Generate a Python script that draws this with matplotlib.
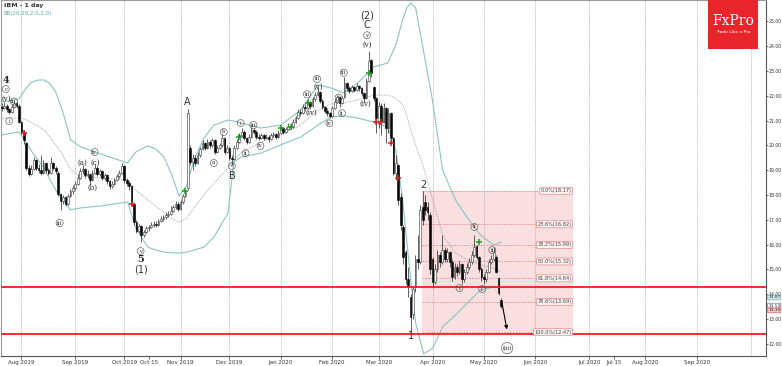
import numpy as np
import pandas as pd
import matplotlib
matplotlib.use('Agg')
import matplotlib.pyplot as plt
import matplotlib.transforms as mtransforms
from matplotlib.patches import Rectangle

# trading calendar (US holidays removed up to the last bar, plain weekdays after it)
holidays = ['2019-09-02', '2019-11-28', '2019-12-25', '2020-01-01',
            '2020-01-20', '2020-02-17', '2020-04-10']
past = pd.bdate_range('2019-07-22', '2020-05-12')
past = past[~past.isin(pd.to_datetime(holidays))]
future = pd.bdate_range('2020-05-13', '2020-10-30')
days = past.append(future)

# daily candles, 22 Jul 2019 .. 12 May 2020
opens = [21.55, 21.50, 21.60, 21.45, 21.35, 21.55, 21.70, 21.60, 20.95, 20.55,
         20.10, 19.10, 18.85, 19.05, 19.40, 19.10, 19.00, 18.90, 19.30, 19.00,
         18.90, 19.30, 19.10, 18.90, 18.05, 17.75, 17.90, 17.65, 17.95, 18.15,
         18.30, 18.45, 18.70, 18.95, 19.05, 18.80, 18.85, 18.60, 18.90, 19.10,
         18.85, 18.95, 18.70, 18.80, 18.55, 18.35, 18.45, 18.60, 18.75, 18.90,
         19.15, 18.60, 18.50, 18.35, 17.65, 16.90, 16.55, 16.75, 16.40, 16.50,
         16.65, 16.70, 16.80, 16.85, 16.80, 16.95, 17.05, 17.10, 17.20, 17.25,
         17.35, 17.50, 17.65, 17.45, 17.70, 17.95, 18.30, 19.90, 19.35, 19.50,
         19.30, 19.60, 19.85, 20.10, 19.90, 20.15, 20.00, 20.20, 19.75, 19.90,
         20.00, 20.30, 19.75, 19.90, 19.50, 19.45, 19.90, 20.15, 20.40, 20.55,
         20.30, 20.15, 20.35, 20.60, 20.55, 20.35, 20.30, 20.40, 20.30, 20.35,
         20.25, 20.40, 20.45, 20.35, 20.50, 20.70, 20.55, 20.65, 20.80, 20.75,
         20.95, 21.10, 21.35, 21.30, 21.55, 21.50, 21.75, 21.60, 21.85, 22.05,
         22.15, 21.80, 21.55, 21.40, 21.30, 21.20, 21.50, 21.75, 21.95, 21.70,
         21.95, 22.50, 22.30, 22.20, 22.35, 22.25, 22.40, 22.30, 22.10, 21.90,
         22.60, 23.45, 22.35, 21.90, 20.90, 21.60, 21.00, 21.50, 20.70, 21.30,
         20.30, 18.90, 19.20, 17.90, 16.70, 15.70, 14.60, 13.90, 13.20, 14.30,
         15.40, 15.30, 17.50, 17.70, 17.50, 17.20, 15.40, 14.50, 15.00, 15.60,
         15.30, 15.80, 15.40, 15.70, 15.30, 14.70, 15.10, 14.90, 15.20, 14.60,
         14.90, 15.10, 15.30, 15.60, 15.95, 15.50, 15.00, 14.70, 14.60, 14.90,
         15.30, 15.40, 15.50, 14.65, 13.75]
highs = [21.70, 21.75, 21.65, 21.50, 21.65, 21.80, 21.75, 21.65, 21.00, 20.60,
         20.15, 19.20, 19.20, 19.55, 19.45, 19.25, 19.60, 19.40, 19.35, 19.10,
         19.55, 19.35, 19.15, 18.95, 18.10, 18.00, 17.95, 18.05, 18.25, 18.40,
         18.55, 18.85, 19.10, 19.20, 19.10, 19.00, 18.90, 19.00, 19.25, 19.15,
         19.05, 19.00, 18.90, 18.85, 18.60, 18.55, 18.70, 18.85, 19.00, 19.30,
         19.20, 18.70, 18.55, 18.40, 17.70, 17.00, 16.85, 16.80, 16.60, 16.75,
         16.80, 16.90, 16.95, 16.95, 17.05, 17.15, 17.20, 17.30, 17.35, 17.55,
         17.60, 17.75, 17.70, 17.80, 18.05, 18.25, 21.45, 20.00, 19.65, 19.60,
         19.75, 19.95, 20.20, 20.15, 20.25, 20.20, 20.30, 20.25, 20.00, 20.10,
         20.45, 20.35, 20.00, 19.95, 19.60, 20.00, 20.25, 20.50, 20.70, 20.60,
         20.35, 20.45, 20.75, 20.70, 20.60, 20.45, 20.50, 20.45, 20.45, 20.40,
         20.50, 20.55, 20.50, 20.60, 20.80, 20.75, 20.75, 20.90, 20.90, 21.05,
         21.20, 21.45, 21.45, 21.65, 21.65, 21.85, 21.80, 21.95, 22.15, 22.35,
         22.20, 21.85, 21.60, 21.50, 21.35, 21.60, 21.85, 22.05, 22.00, 22.00,
         22.75, 22.55, 22.40, 22.45, 22.40, 22.50, 22.45, 22.35, 22.15, 22.70,
         23.80, 23.50, 22.40, 21.95, 21.75, 21.70, 21.70, 21.55, 21.50, 21.35,
         20.35, 19.60, 19.25, 18.10, 16.80, 15.80, 15.10, 14.00, 14.30, 15.60,
         16.40, 17.60, 18.17, 18.00, 17.70, 17.30, 15.50, 15.20, 15.80, 15.70,
         16.40, 15.90, 15.85, 15.75, 15.40, 15.25, 15.20, 15.35, 15.25, 15.00,
         15.25, 15.45, 15.75, 16.40, 16.00, 15.55, 15.10, 14.80, 15.00, 15.40,
         15.60, 15.90, 15.60, 14.70, 13.85]
lows = [21.40, 21.45, 21.35, 21.25, 21.30, 21.50, 21.50, 20.90, 20.45, 20.05,
        19.00, 18.75, 18.80, 19.00, 19.00, 18.90, 18.80, 18.85, 18.90, 18.80,
        18.85, 19.00, 18.85, 17.95, 17.40, 17.65, 17.55, 17.60, 17.90, 18.05,
        18.20, 18.40, 18.65, 18.85, 18.70, 18.70, 18.45, 18.55, 18.85, 18.75,
        18.75, 18.60, 18.60, 18.45, 18.25, 18.30, 18.40, 18.55, 18.70, 18.85,
        18.50, 18.35, 18.20, 17.55, 16.80, 16.45, 16.45, 16.10, 16.30, 16.45,
        16.55, 16.65, 16.70, 16.70, 16.75, 16.90, 16.95, 17.05, 17.10, 17.20,
        17.30, 17.45, 17.35, 17.40, 17.65, 17.90, 18.20, 19.20, 19.00, 19.15,
        19.25, 19.55, 19.80, 19.80, 19.85, 19.90, 19.95, 19.65, 19.70, 19.85,
        19.95, 19.65, 19.70, 19.40, 19.20, 19.40, 19.85, 20.10, 20.35, 20.20,
        20.05, 20.10, 20.30, 20.45, 20.25, 20.20, 20.25, 20.20, 20.25, 20.15,
        20.20, 20.35, 20.25, 20.30, 20.45, 20.45, 20.50, 20.60, 20.65, 20.70,
        20.90, 21.05, 21.20, 21.25, 21.40, 21.45, 21.45, 21.55, 21.80, 22.00,
        21.70, 21.45, 21.30, 21.20, 21.10, 21.15, 21.45, 21.70, 21.55, 21.65,
        21.90, 22.20, 22.10, 22.15, 22.15, 22.20, 22.20, 22.00, 21.75, 21.85,
        22.55, 22.75, 21.80, 20.50, 20.70, 20.40, 20.90, 20.10, 20.50, 20.05,
        18.80, 18.60, 17.60, 16.60, 15.20, 14.40, 13.90, 12.47, 13.00, 14.10,
        15.00, 15.20, 16.80, 17.20, 17.00, 14.80, 14.25, 14.40, 14.90, 15.10,
        15.20, 15.30, 15.30, 15.10, 14.55, 14.60, 14.75, 14.80, 14.40, 14.50,
        14.80, 15.00, 15.20, 15.50, 15.40, 14.90, 14.55, 14.40, 14.50, 14.85,
        15.20, 15.35, 14.85, 13.95, 13.45]
closes = [21.50, 21.60, 21.45, 21.35, 21.55, 21.70, 21.60, 20.95, 20.55, 20.20,
          19.10, 18.85, 19.05, 19.40, 19.10, 19.00, 18.90, 19.30, 19.00, 18.90,
          19.30, 19.10, 18.95, 18.05, 17.75, 17.90, 17.65, 17.95, 18.15, 18.30,
          18.45, 18.70, 18.95, 19.05, 18.80, 18.85, 18.60, 18.90, 19.10, 18.85,
          18.95, 18.70, 18.80, 18.55, 18.35, 18.45, 18.60, 18.75, 18.90, 19.15,
          18.60, 18.50, 18.35, 17.65, 16.90, 16.55, 16.75, 16.40, 16.50, 16.65,
          16.70, 16.80, 16.85, 16.80, 16.95, 17.05, 17.10, 17.20, 17.25, 17.35,
          17.50, 17.65, 17.45, 17.70, 17.95, 18.15, 21.30, 19.35, 19.50, 19.30,
          19.60, 19.85, 20.10, 19.90, 20.15, 20.00, 20.20, 19.75, 19.90, 20.00,
          20.30, 19.75, 19.90, 19.50, 19.45, 19.90, 20.15, 20.40, 20.55, 20.30,
          20.15, 20.35, 20.60, 20.55, 20.35, 20.30, 20.40, 20.30, 20.35, 20.25,
          20.40, 20.45, 20.35, 20.50, 20.70, 20.55, 20.65, 20.80, 20.75, 20.95,
          21.10, 21.35, 21.30, 21.55, 21.50, 21.75, 21.60, 21.85, 22.05, 22.15,
          21.80, 21.55, 21.40, 21.30, 21.20, 21.50, 21.75, 21.95, 21.70, 21.90,
          22.50, 22.30, 22.20, 22.35, 22.25, 22.40, 22.30, 22.10, 21.90, 22.60,
          23.40, 22.90, 21.90, 21.10, 21.60, 21.00, 21.50, 20.70, 21.30, 20.30,
          18.90, 19.30, 17.80, 16.80, 15.50, 14.60, 14.30, 13.10, 14.20, 15.40,
          15.30, 17.40, 17.00, 17.40, 17.30, 15.00, 14.50, 15.00, 15.60, 15.30,
          15.80, 15.40, 15.70, 15.30, 14.70, 15.10, 14.90, 15.20, 14.60, 14.90,
          15.10, 15.30, 15.60, 15.90, 15.50, 15.00, 14.70, 14.60, 14.90, 15.30,
          15.40, 15.70, 14.90, 14.05, 13.54]

# Bollinger bands (bar index, price)
band_x = [0, 6.9, 9.5, 11.8, 14.5, 17.1, 19.5, 22.0, 24.9, 28.1, 32.2, 40.4, 51.4,
          54.7, 59.6, 63.0, 66.2, 69.5, 72.4, 75.6, 78.5, 82.6, 86.7, 92.4, 94.8,
          97.7, 105.9, 114.0, 122.2, 129.2, 134.5, 139.8, 145.5, 152.0, 157.7,
          161.0, 163.8, 165.5, 167.1, 169.1, 172.4, 176.1, 180.1, 185.4, 190.3,
          195.6, 200.9, 204.0]
band_up = [21.75, 21.87, 22.25, 22.52, 22.63, 22.64, 22.50, 22.15, 21.35, 20.22,
           19.94, 19.65, 19.29, 19.73, 19.98, 19.85, 19.53, 18.80, 17.96, 18.40,
           19.41, 20.30, 20.82, 21.02, 20.98, 20.90, 20.70, 20.82, 21.43, 22.44,
           22.31, 22.11, 22.52, 23.16, 23.32, 24.05, 25.06, 25.55, 25.74, 25.54,
           23.75, 21.75, 19.01, 17.80, 17.07, 16.39, 15.98, 16.10]
band_mid = [21.10, 21.10, 21.05, 20.94, 20.80, 20.62, 20.35, 20.02, 19.61, 19.01,
            18.77, 18.69, 18.60, 18.20, 17.80, 17.55, 17.31, 17.05, 16.91, 17.07,
            17.48, 18.00, 18.48, 19.09, 19.41, 19.69, 20.14, 20.42, 20.82, 21.43,
            21.67, 21.71, 21.83, 22.03, 22.03, 21.91, 21.63, 21.20, 20.62, 20.02,
            19.09, 17.80, 16.39, 15.66, 15.38, 15.18, 15.06, 14.90]
band_lo = [20.42, 20.54, 20.20, 19.81, 19.45, 19.09, 18.65, 18.20, 17.80, 17.40,
           17.48, 17.56, 17.72, 16.67, 15.90, 15.78, 15.70, 15.67, 15.66, 15.70,
           15.78, 15.90, 16.31, 17.27, 19.33, 19.53, 19.69, 20.02, 20.34, 20.82,
           21.15, 21.19, 21.10, 20.94, 20.74, 19.81, 17.80, 16.10, 14.57, 12.84,
           11.59, 11.83, 12.68, 13.16, 13.65, 14.17, 14.29, 14.29]

# signal crosses
red_x = [9, 53, 153, 155, 159, 162]
red_y = [20.50, 17.64, 20.94, 20.94, 20.09, 18.69]
green_x = [75, 97, 114, 118, 125, 150, 195]
green_y = [18.16, 20.34, 20.70, 20.74, 21.71, 22.92, 16.10]

# Elliott wave labels
wave_x = [1.6, 1.6, 1.6, 4.9, 3.0, 33.1, 38.3, 37.1, 37.9, 23.6, 56.7, 56.7,
          56.9, 75.6, 86.6, 90.7, 94.0, 94.0, 97.6, 99.6, 102.8, 105.7, 124.7,
          126.5, 128.8, 129.2, 133.8, 137.6, 139.0, 139.7, 148.5, 149.2, 149.2,
          149.2, 149.2, 172.4, 167.1, 187.0, 193.1, 196.3, 200.4, 206.5]
wave_y = [22.62, 22.27, 21.87, 21.77, 20.98, 19.29, 19.29, 18.28, 19.73, 16.87,
          15.74, 15.40, 14.98, 21.75, 19.29, 20.54, 19.17, 18.77, 20.90, 19.69,
          20.82, 19.98, 22.06, 21.30, 22.68, 22.35, 20.89, 21.93, 21.30, 22.93,
          21.69, 24.04, 24.44, 24.85, 25.22, 18.40, 12.33, 14.25, 16.71, 14.21,
          15.78, 11.83]
wave_text = ['4', 'c', '(v)', 'iii', 'i', '(a)', '(c)', '(b)', 'iv', 'iii', 'v', '5',
             '(1)', 'A', 'a', 'b', 'c', 'B', 'i', 'ii', 'iii', 'iv', 'iii',
             '(iv)', 'iii', '(v)', 'iv', 'i', 'ii', 'iii', '(iv)', '(v)', 'v',
             'C', '(2)', '2', '1', 'i', 'ii', 'i', 'ii', '(iii)']
wave_kind = ['num', 'circ', 'paren', 'circ', 'circ', 'paren', 'paren', 'paren',
             'circ', 'circ', 'circ', 'num', 'big', 'big', 'circ', 'circ', 'circ',
             'big', 'circ', 'circ', 'circ', 'circ', 'circ', 'paren', 'circ',
             'paren', 'circ', 'circ', 'circ', 'circ', 'paren', 'paren', 'circ',
             'big', 'big', 'big', 'big', 'circ', 'circ', 'circ', 'circ', 'circ']

# fibonacci retracement
fib_start, fib_end = 171.8, 233.4
fib_pct = ['0.0', '23.6', '38.2', '50.0', '61.8', '78.6', '100.0']
fib_val = [18.17, 16.82, 15.99, 15.32, 14.64, 13.69, 12.47]
levels = [14.31, 12.41]

month_starts = ['2019-08-01', '2019-09-01', '2019-10-01', '2019-11-01', '2019-12-01',
                '2020-01-01', '2020-02-01', '2020-03-01', '2020-04-01', '2020-05-01',
                '2020-06-01', '2020-07-01', '2020-08-01', '2020-09-01', '2020-10-01']
tick_dates = ['2019-08-01', '2019-09-01', '2019-10-01', '2019-10-15', '2019-11-01',
              '2019-12-01', '2020-01-01', '2020-02-01', '2020-03-01', '2020-04-01',
              '2020-05-01', '2020-06-01', '2020-07-01', '2020-07-15', '2020-08-01',
              '2020-09-01']
tick_labels = ['Aug 2019', 'Sep 2019', 'Oct 2019', 'Oct 15', 'Nov 2019', 'Dec 2019',
               'Jan 2020', 'Feb 2020', 'Mar 2020', 'Apr 2020', 'May 2020', 'Jun 2020',
               'Jul 2020', 'Jul 15', 'Aug 2020', 'Sep 2020']


def pos(d):
    return int(np.searchsorted(days.values, np.datetime64(pd.Timestamp(d))))


fig = plt.figure(figsize=(7.82, 3.66), dpi=100)
ax = fig.add_axes([0.001, 10 / 366, 765 / 782, 356 / 366])
ax.set_xlim(-0.45, 312.2)
ax.set_ylim(11.51, 25.86)

# grid
for d in month_starts:
    ax.axvline(pos(d), color='#a0a0a0', lw=0.5, ls=(0, (1.5, 1.5)), zorder=0.5)

# fib box
ax.add_patch(Rectangle((fib_start, fib_val[-1]), fib_end - fib_start,
                       fib_val[0] - fib_val[-1], fc='#f9dfdf', ec='none', zorder=0.2))
for p, v in zip(fib_pct, fib_val):
    ax.plot([fib_start, fib_end], [v, v], color='#e58a8a', lw=0.6,
            ls=(0, (2, 1.5)), zorder=1.5)
    ax.text(fib_end - 0.6, v, f'{p}%({v:.2f})', fontsize=3.6, ha='right', va='center',
            color='#444444', zorder=5,
            bbox=dict(boxstyle='round,pad=0.2', fc='#fdf2f2', ec='#e58a8a', lw=0.5))

# bands
ax.plot(band_x, band_up, color='#8cc3c3', lw=0.8, zorder=1)
ax.plot(band_x, band_lo, color='#8cc3c3', lw=0.8, zorder=1)
ax.plot(band_x, band_mid, color='#9a9a9a', lw=0.6, ls=(0, (1, 1)), zorder=1)

# candles
o = np.array(opens)
h = np.array(highs)
l = np.array(lows)
c = np.array(closes)
x = np.arange(len(c))
up = c >= o
ax.vlines(x, l, h, color='#222222', lw=0.5, zorder=2)
body = np.maximum(np.abs(c - o), 0.03)
ax.bar(x[up], body[up], bottom=o[up], width=0.7, color='white',
       edgecolor='#333333', linewidth=0.4, zorder=3)
ax.bar(x[~up], body[~up], bottom=c[~up], width=0.7, color='black',
       edgecolor='black', linewidth=0.4, zorder=3)

# horizontal levels
for v in levels:
    ax.axhline(v, color='#ff1a1a', lw=1.3, zorder=4)

# signal marks
ax.scatter(red_x, red_y, marker='+', s=14, color='#d42020', linewidths=1.1, zorder=4)
ax.scatter(green_x, green_y, marker='+', s=14, color='#1e9e1e', linewidths=1.1, zorder=4)

# projection arrow
ax.annotate('', xy=(206.6, 12.47), xytext=(204.2, 13.75),
            arrowprops=dict(arrowstyle='-|>', color='black', lw=0.8,
                            mutation_scale=5), zorder=5)

# wave labels
for wx, wy, t, k in zip(wave_x, wave_y, wave_text, wave_kind):
    if k == 'circ':
        ax.text(wx, wy, t, fontsize=3.8, family='serif', ha='center', va='center',
                color='#222222', zorder=6,
                bbox=dict(boxstyle='circle,pad=0.18', fc='none', ec='#444444', lw=0.4))
    elif k == 'paren':
        ax.text(wx, wy, t, fontsize=5, family='serif', ha='center', va='center',
                color='#222222', zorder=6)
    elif k == 'num':
        ax.text(wx, wy, t, fontsize=7, family='serif', fontweight='bold',
                ha='center', va='center', color='#222222', zorder=6)
    else:
        ax.text(wx, wy, t, fontsize=7, ha='center', va='center',
                color='#333333', zorder=6)

# axes styling
ax.yaxis.tick_right()
ax.set_yticks(np.arange(12, 26))
ax.set_yticklabels([f'{v:.2f}' for v in np.arange(12, 26)])
ax.tick_params(axis='y', labelsize=3.3, length=1.5, width=0.5, pad=0.5, colors='#333333')
ax.set_xticks([pos(d) for d in tick_dates])
ax.set_xticklabels(tick_labels)
ax.tick_params(axis='x', labelsize=4, length=2, width=0.5, pad=1, colors='#333333')
for s in ['left', 'top']:
    ax.spines[s].set_color('#9a9a9a')
    ax.spines[s].set_linewidth(0.8)
for s in ['right', 'bottom']:
    ax.spines[s].set_color('#555555')
    ax.spines[s].set_linewidth(0.8)

# price tags on the axis
tr = mtransforms.blended_transform_factory(ax.transAxes, ax.transData)
for v, fc, ec in [(13.87, '#cfe7e7', '#6fb0b0'), (13.54, 'white', '#777777'),
                  (13.35, '#f3c0c0', '#d46a6a')]:
    ax.text(1.003, v, f'{v:.2f}', transform=tr, fontsize=3.1, ha='left', va='center',
            color='#333333', clip_on=False, zorder=7,
            bbox=dict(boxstyle='round,pad=0.1', fc=fc, ec=ec, lw=0.5))

# title
fig.text(4 / 782, 1 - 5 / 366, 'IBM - 1 day', fontsize=4.5, fontweight='bold',
         color='#333333', va='center')
fig.text(4 / 782, 1 - 13 / 366, 'BB(20,20,2.0,2.0)', fontsize=4, color='#5aa8a8',
         va='center')

# logo
fig.patches.append(Rectangle((708 / 782, 1 - 49 / 366), 50 / 782, 49 / 366,
                             transform=fig.transFigure, fc='#e8252b', ec='none',
                             zorder=8))
fig.text(733 / 782, 1 - 21 / 366, 'FxPro', fontsize=10, family='serif', color='white',
         ha='center', va='center', zorder=9)
fig.text(733 / 782, 1 - 32 / 366, 'Trade Like a Pro', fontsize=3.2, color='white',
         ha='center', va='center', zorder=9)

fig.savefig('out.png', dpi=100)
